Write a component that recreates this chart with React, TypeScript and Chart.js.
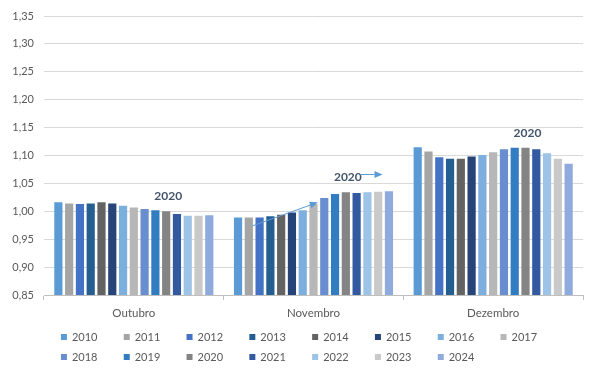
import React, { useEffect, useRef } from "react";
import { Chart, registerables } from "chart.js";

Chart.register(...registerables);

const categories = ["Outubro", "Novembro", "Dezembro"];
const years = ["2010", "2011", "2012", "2013", "2014", "2015", "2016", "2017", "2018", "2019", "2020", "2021", "2022", "2023", "2024"];

const v2010 = [1.016, 0.989, 1.115];
const v2011 = [1.014, 0.989, 1.107];
const v2012 = [1.013, 0.989, 1.097];
const v2013 = [1.014, 0.991, 1.094];
const v2014 = [1.016, 0.994, 1.094];
const v2015 = [1.014, 0.998, 1.098];
const v2016 = [1.010, 1.002, 1.101];
const v2017 = [1.007, 1.013, 1.106];
const v2018 = [1.004, 1.024, 1.111];
const v2019 = [1.002, 1.031, 1.114];
const v2020 = [1.000, 1.034, 1.114];
const v2021 = [0.995, 1.033, 1.111];
const v2022 = [0.992, 1.034, 1.104];
const v2023 = [0.992, 1.035, 1.094];
const v2024 = [0.993, 1.036, 1.085];
const seriesValues = [v2010, v2011, v2012, v2013, v2014, v2015, v2016, v2017, v2018, v2019, v2020, v2021, v2022, v2023, v2024];

const colors = ["#5B9BD5", "#A5A5A5", "#4472C4", "#255E91", "#636363", "#264478", "#7CAFDD", "#B7B7B7", "#698ED0", "#327DC2", "#848484", "#335AA1", "#9DC3E6", "#C9C9C9", "#8FAADC"];

const yTicks = [0.85, 0.9, 0.95, 1.0, 1.05, 1.1, 1.15, 1.2, 1.25, 1.3, 1.35];

const annotationLabel = "2020";
const annotationSeries = 10;
// arrows in Novembro: [fractional series position, value] start -> end
const arrowCategory = 1;
const arrow1 = [[1.35, 0.974], [7.4, 1.016]];
const arrow2 = [[11.3, 1.066], [13.4, 1.066]];

const FONT = "Lato, 'Open Sans', sans-serif";

function App() {
  const ref = useRef<HTMLCanvasElement | null>(null);
  useEffect(() => {
    if (!ref.current) return;

    const posX = (chart: any, cat: number, pos: number) => {
      const i = Math.floor(pos);
      const f = pos - i;
      const a = chart.getDatasetMeta(Math.min(i, years.length - 1)).data[cat];
      const b = chart.getDatasetMeta(Math.min(i + 1, years.length - 1)).data[cat];
      if (i + 1 > years.length - 1) {
        const p = chart.getDatasetMeta(years.length - 2).data[cat];
        return a.x + (a.x - p.x) * f;
      }
      return a.x + (b.x - a.x) * f;
    };

    const overlay = {
      id: "overlay",
      afterDatasetsDraw(chart: any) {
        const ctx = chart.ctx;
        const yS = chart.scales.y;
        ctx.save();
        ctx.font = `bold 12px ${FONT}`;
        ctx.fillStyle = "#44546A";
        ctx.textAlign = "center";
        ctx.textBaseline = "middle";
        const meta = chart.getDatasetMeta(annotationSeries);
        meta.data.forEach((el: any) => {
          ctx.fillText(annotationLabel, el.x + 2, el.y - 15);
        });
        const drawArrow = (arr: number[][]) => {
          const x1 = posX(chart, arrowCategory, arr[0][0]);
          const y1 = yS.getPixelForValue(arr[0][1]);
          const x2 = posX(chart, arrowCategory, arr[1][0]);
          const y2 = yS.getPixelForValue(arr[1][1]);
          const ang = Math.atan2(y2 - y1, x2 - x1);
          const hl = 8;
          const hw = 3.5;
          const bx = x2 - hl * Math.cos(ang);
          const by = y2 - hl * Math.sin(ang);
          ctx.strokeStyle = "#5B9BD5";
          ctx.fillStyle = "#5B9BD5";
          ctx.lineWidth = 1;
          ctx.beginPath();
          ctx.moveTo(x1, y1);
          ctx.lineTo(bx, by);
          ctx.stroke();
          ctx.beginPath();
          ctx.moveTo(x2, y2);
          ctx.lineTo(bx + hw * Math.sin(ang), by - hw * Math.cos(ang));
          ctx.lineTo(bx - hw * Math.sin(ang), by + hw * Math.cos(ang));
          ctx.closePath();
          ctx.fill();
        };
        drawArrow(arrow1);
        drawArrow(arrow2);
        ctx.restore();
      },
      afterDraw(chart: any) {
        const ctx = chart.ctx;
        const area = chart.chartArea;
        const pitch = 62.8;
        const cols = 8;
        const box = 6;
        const gap = 5;
        ctx.save();
        ctx.font = `11px ${FONT}`;
        const tw = ctx.measureText(years[0]).width;
        const totalW = (cols - 1) * pitch + box + gap + tw;
        const startX = chart.width / 2 - totalW / 2;
        ctx.textBaseline = "middle";
        ctx.textAlign = "left";
        years.forEach((y, i) => {
          const r = Math.floor(i / cols);
          const c = i % cols;
          const x = startX + c * pitch;
          const yy = area.bottom + 42 + r * 20;
          ctx.fillStyle = colors[i];
          ctx.fillRect(x, yy - box / 2, box, box);
          ctx.fillStyle = "#595959";
          ctx.fillText(y, x + box + gap, yy + 0.5);
        });
        ctx.restore();
      },
    };

    const chart = new Chart(ref.current, {
      type: "bar",
      data: {
        labels: categories,
        datasets: years.map((y, i) => ({
          label: y,
          data: seriesValues[i],
          backgroundColor: colors[i],
          borderWidth: 0,
          categoryPercentage: 0.9,
          barPercentage: 0.76,
        })),
      },
      options: {
        animation: false,
        responsive: false,
        maintainAspectRatio: false,
        layout: { padding: { top: 8, right: 7, left: 0, bottom: 51 } },
        plugins: {
          legend: { display: false },
          tooltip: { enabled: false },
        },
        scales: {
          x: {
            grid: { display: true, drawOnChartArea: false, drawTicks: true, tickLength: 5, offset: true, color: "#BFBFBF" },
            border: { display: true, color: "#BFBFBF" },
            ticks: { color: "#595959", font: { family: FONT, size: 11.5 }, padding: 6 },
            afterFit: (s: any) => { s.height = 30; },
          },
          y: {
            min: 0.85,
            max: 1.35,
            afterBuildTicks: (s: any) => { s.ticks = yTicks.map((v) => ({ value: v })); },
            grid: { color: "#D9D9D9", drawTicks: false },
            border: { display: false },
            ticks: {
              color: "#595959",
              font: { family: FONT, size: 11 },
              padding: 10,
              callback: (v: any) => Number(v).toFixed(2).replace(".", ","),
            },
            afterFit: (s: any) => { s.width = 36; s.paddingTop = 0; s.paddingBottom = 0; },
          },
        },
      },
      plugins: [overlay],
    });
    return () => chart.destroy();
  }, []);
  return (
    <div style={{ width: 582, height: 368 }}>
      <canvas ref={ref} width={582} height={368} style={{ display: "block" }} />
    </div>
  );
}

export default App;
